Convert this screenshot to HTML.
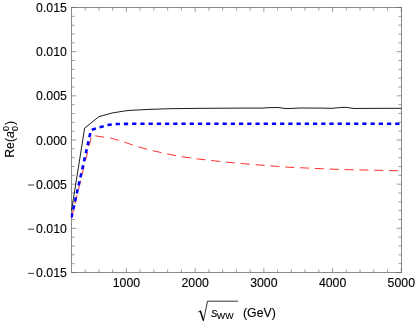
<!DOCTYPE html>
<html><head><meta charset="utf-8"><style>
html,body{margin:0;padding:0;background:#fff;}
svg{display:block;}
text{filter:grayscale(1);}
text{font-family:"Liberation Sans",sans-serif;font-size:12.3px;fill:#000;stroke:#000;stroke-width:0.12px;}
</style></head><body>
<svg width="415" height="323" viewBox="0 0 415 323">
<rect width="415" height="323" fill="#fff"/>
<rect x="71.5" y="7.5" width="330.00" height="265.00" fill="none" stroke="#666" stroke-width="0.75"/>
<path d="M85.19 272.5v-3.1M85.19 7.5v3.1M98.93 272.5v-3.1M98.93 7.5v3.1M112.68 272.5v-3.1M112.68 7.5v3.1M126.42 272.5v-4.8M126.42 7.5v4.8M140.16 272.5v-3.1M140.16 7.5v3.1M153.91 272.5v-3.1M153.91 7.5v3.1M167.65 272.5v-3.1M167.65 7.5v3.1M181.40 272.5v-3.1M181.40 7.5v3.1M195.14 272.5v-4.8M195.14 7.5v4.8M208.88 272.5v-3.1M208.88 7.5v3.1M222.63 272.5v-3.1M222.63 7.5v3.1M236.37 272.5v-3.1M236.37 7.5v3.1M250.12 272.5v-3.1M250.12 7.5v3.1M263.86 272.5v-4.8M263.86 7.5v4.8M277.60 272.5v-3.1M277.60 7.5v3.1M291.35 272.5v-3.1M291.35 7.5v3.1M305.09 272.5v-3.1M305.09 7.5v3.1M318.84 272.5v-3.1M318.84 7.5v3.1M332.58 272.5v-4.8M332.58 7.5v4.8M346.32 272.5v-3.1M346.32 7.5v3.1M360.07 272.5v-3.1M360.07 7.5v3.1M373.81 272.5v-3.1M373.81 7.5v3.1M387.56 272.5v-3.1M387.56 7.5v3.1M401.30 272.5v-4.8M401.30 7.5v4.8M71.5 272.50h4.8M401.5 272.50h-4.8M71.5 263.67h3.1M401.5 263.67h-3.1M71.5 254.83h3.1M401.5 254.83h-3.1M71.5 246.00h3.1M401.5 246.00h-3.1M71.5 237.17h3.1M401.5 237.17h-3.1M71.5 228.33h4.8M401.5 228.33h-4.8M71.5 219.50h3.1M401.5 219.50h-3.1M71.5 210.67h3.1M401.5 210.67h-3.1M71.5 201.83h3.1M401.5 201.83h-3.1M71.5 193.00h3.1M401.5 193.00h-3.1M71.5 184.17h4.8M401.5 184.17h-4.8M71.5 175.33h3.1M401.5 175.33h-3.1M71.5 166.50h3.1M401.5 166.50h-3.1M71.5 157.67h3.1M401.5 157.67h-3.1M71.5 148.83h3.1M401.5 148.83h-3.1M71.5 140.00h4.8M401.5 140.00h-4.8M71.5 131.17h3.1M401.5 131.17h-3.1M71.5 122.33h3.1M401.5 122.33h-3.1M71.5 113.50h3.1M401.5 113.50h-3.1M71.5 104.67h3.1M401.5 104.67h-3.1M71.5 95.83h4.8M401.5 95.83h-4.8M71.5 87.00h3.1M401.5 87.00h-3.1M71.5 78.17h3.1M401.5 78.17h-3.1M71.5 69.33h3.1M401.5 69.33h-3.1M71.5 60.50h3.1M401.5 60.50h-3.1M71.5 51.67h4.8M401.5 51.67h-4.8M71.5 42.83h3.1M401.5 42.83h-3.1M71.5 34.00h3.1M401.5 34.00h-3.1M71.5 25.17h3.1M401.5 25.17h-3.1M71.5 16.33h3.1M401.5 16.33h-3.1M71.5 7.50h4.8M401.5 7.50h-4.8" stroke="#666" stroke-width="0.65" fill="none"/>
<text x="126.42" y="287.1" text-anchor="middle">1000</text>
<text x="195.14" y="287.1" text-anchor="middle">2000</text>
<text x="263.86" y="287.1" text-anchor="middle">3000</text>
<text x="332.58" y="287.1" text-anchor="middle">4000</text>
<text x="401.30" y="287.1" text-anchor="middle">5000</text>
<text x="66.9" y="277.00" text-anchor="end">0.015</text>
<path d="M28 273.35H34.1" stroke="#1a1a1a" stroke-width="0.85" fill="none"/>
<text x="66.9" y="232.83" text-anchor="end">0.010</text>
<path d="M28 229.18H34.1" stroke="#1a1a1a" stroke-width="0.85" fill="none"/>
<text x="66.9" y="188.67" text-anchor="end">0.005</text>
<path d="M28 185.02H34.1" stroke="#1a1a1a" stroke-width="0.85" fill="none"/>
<text x="66.9" y="144.50" text-anchor="end">0.000</text>
<text x="66.9" y="100.33" text-anchor="end">0.005</text>
<text x="66.9" y="56.17" text-anchor="end">0.010</text>
<text x="66.9" y="12.00" text-anchor="end">0.015</text>
<clipPath id="c"><rect x="70.7" y="7" width="331.3" height="266"/></clipPath><g clip-path="url(#c)">
<polyline points="71.5,210.60 84.65,128.10 98.8,116.70 112.1,113.00 125,110.90 130,110.40 150,109.35 170,108.70 200,108.35 240,108.10 262,108.10 270,107.60 278,107.50 286,108.60 292,108.40 300,108.00 320,108.10 332,108.30 340,107.60 345,107.30 350,107.90 354,108.50 365,108.40 401.5,108.30" fill="none" stroke="#111" stroke-width="0.95" stroke-linejoin="miter"/>
<polyline points="71.6,217.40 91.7,135.30 96,135.95 104.7,137.30 110.3,138.00 118.9,140.40 124.5,142.20 135.5,146.00 150.2,150.10 165.3,153.50 179.7,156.40 195.6,158.70 220,161.50 250,164.30 290,167.30 340,169.50 401.4,170.80" fill="none" stroke="#ff3030" stroke-width="1" stroke-dasharray="9.0 5.85" stroke-dashoffset="0.9"/>
<polyline points="71.4,217.50 91,130.10 99.5,127.20 109,124.80 117,124.00 130,123.80 401.4,123.80" fill="none" stroke="#0000ff" stroke-width="2.6" stroke-dasharray="4.25 3.97"/>
</g>
<g transform="translate(14.2 157.8) rotate(-90)"><text x="0" y="0">Re(<tspan style="font-style:italic">a</tspan></text><text x="26.8" y="4.0" style="font-size:8.9px">0</text><text x="26.8" y="-5.4" style="font-size:8.9px">0</text><text x="32.9" y="0">)</text></g>
<path d="M198 312.2L200.3 310.8" stroke="#000" stroke-width="0.8" fill="none"/><path d="M200.3 310.8L203.4 320.6" stroke="#000" stroke-width="1.5" fill="none"/><path d="M203.4 321L207.5 301.2H238" stroke="#000" stroke-width="0.8" fill="none"/>
<text x="211.3" y="316.8" style="font-style:italic">s</text><text x="216.8" y="319" style="font-size:8.9px">WW</text><text x="243" y="316.8">(GeV)</text>
</svg>
</body></html>
